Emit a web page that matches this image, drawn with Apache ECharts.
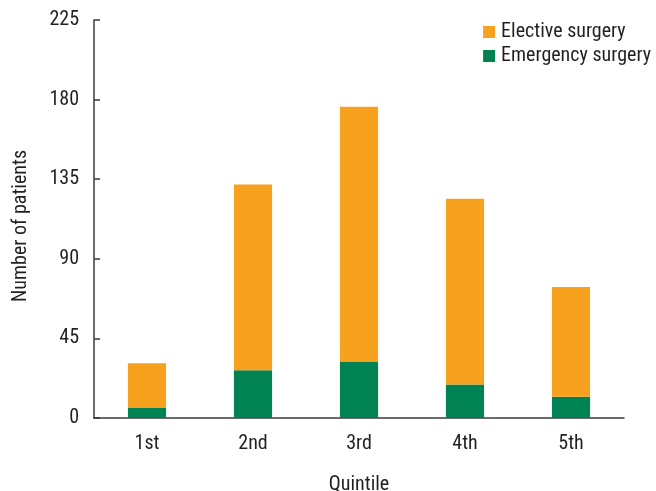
<!DOCTYPE html>
<html><head><meta charset="utf-8">
<script src="https://cdn.jsdelivr.net/npm/echarts@6/dist/echarts.min.js"></script>
<style>html,body{margin:0;padding:0;background:#fff}#c{width:656px;height:491px}</style>
</head><body><div id="c"></div>
<script>
const categories = ['1st', '2nd', '3rd', '4th', '5th'];
const emergency = [6, 27, 32, 19, 12];
const elective = [25, 105, 144, 105, 62];
const yTicks = [0, 45, 90, 135, 180, 225];

const FONT = '"Roboto Condensed", "Liberation Sans Narrow", "Liberation Sans", sans-serif';
const chart = echarts.init(document.getElementById('c'));
chart.setOption({
  animation: false,
  textStyle: { fontFamily: FONT },
  grid: { left: 94, right: 32, top: 20, bottom: 73, outerBoundsMode: 'none', containLabel: false },
  legend: {
    data: ['Elective surgery', 'Emergency surgery'],
    orient: 'vertical', right: 0, top: 17,
    itemWidth: 12, itemHeight: 12, itemGap: 4,
    icon: 'rect',
    textStyle: { fontFamily: FONT, fontSize: 20, color: '#231f20', padding: [0, 0, 0, 1] }
  },
  xAxis: {
    type: 'category', data: categories,
    name: 'Quintile', nameLocation: 'middle', nameGap: 57,
    nameTextStyle: { fontFamily: FONT, fontSize: 20, color: '#231f20' },
    axisLine: { lineStyle: { color: '#3a3a3a', width: 1.5 } },
    axisTick: { inside: true, length: 6, lineStyle: { color: '#3a3a3a', width: 1.5 } },
    axisLabel: { fontFamily: FONT, fontSize: 20, color: '#231f20', margin: 16 }
  },
  yAxis: {
    type: 'value', min: 0, max: 225, interval: 45,
    name: 'Number of patients', nameLocation: 'middle', nameGap: 63, nameRotate: 90,
    nameTextStyle: { fontFamily: FONT, fontSize: 20, color: '#231f20', padding: [0, 14, 0, 0] },
    axisLine: { show: true, lineStyle: { color: '#3a3a3a', width: 1.5 } },
    axisTick: { show: true, inside: true, length: 6, lineStyle: { color: '#3a3a3a', width: 1.5 } },
    splitLine: { show: false },
    axisLabel: { fontFamily: FONT, fontSize: 20, color: '#231f20', margin: 15,
      formatter: v => yTicks.includes(v) ? String(v) : '' }
  },
  series: [
    { name: 'Emergency surgery', type: 'bar', stack: 's', data: emergency,
      barWidth: '36%', itemStyle: { color: '#008253' } },
    { name: 'Elective surgery', type: 'bar', stack: 's', data: elective,
      barWidth: '36%', itemStyle: { color: '#f7a11f' } }
  ]
});
</script></body></html>
